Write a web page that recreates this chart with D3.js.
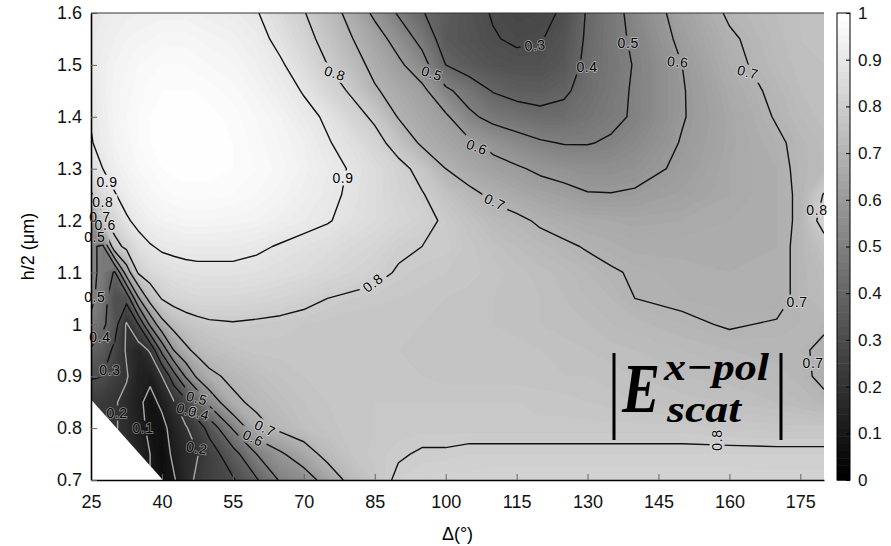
<!DOCTYPE html>
<html>
<head>
<meta charset="utf-8">
<script src="https://cdn.jsdelivr.net/npm/d3@7/dist/d3.min.js"></script>
<style>
body { margin: 0; background: #ffffff; }
svg text { font-family: "Liberation Sans", Arial, Helvetica, sans-serif; }
</style>
</head>
<body>
<div id="chart"></div>
<script>
// grid columns (Delta, deg) and rows (h/2, um)
const deltaValues = [25, 27.5, 30, 32.5, 35, 37.5, 40, 42.5, 45, 47.5, 50, 55, 60, 65, 70, 75, 80, 85, 90, 95, 100, 105, 110, 115, 120, 125, 130, 135, 140, 150, 160, 170, 175, 180];
const halfHeightValues = [0.70, 0.75, 0.80, 0.85, 0.90, 0.95, 1.00, 1.05, 1.10, 1.15, 1.20, 1.25, 1.30, 1.35, 1.40, 1.45, 1.50, 1.55, 1.60];

// |E scat|, one row per h/2 value (bottom to top)
const fieldRows = [
  [0.20,0.20,0.20,0.20,0.15,0.10,0.06,0.09,0.16,0.22, 0.25,0.29,0.39,0.51,0.55,0.64,0.73,0.775,0.81,0.82, 0.825,0.825,0.83,0.83,0.83,0.83,0.83,0.83,0.83,0.83, 0.83,0.825,0.825,0.825],
  [0.20,0.20,0.20,0.17,0.14,0.10,0.05,0.12,0.16,0.195, 0.25,0.36,0.50,0.585,0.655,0.73,0.77,0.785,0.795,0.805, 0.805,0.81,0.81,0.81,0.81,0.81,0.81,0.81,0.81,0.81, 0.81,0.81,0.81,0.81],
  [0.22,0.22,0.21,0.17,0.13,0.08,0.07,0.14,0.19,0.25, 0.33,0.51,0.67,0.72,0.75,0.765,0.775,0.78,0.785,0.785, 0.785,0.785,0.785,0.785,0.785,0.785,0.785,0.785,0.785,0.785, 0.78,0.775,0.775,0.775],
  [0.24,0.23,0.21,0.17,0.12,0.07,0.12,0.19,0.27,0.40, 0.53,0.68,0.72,0.745,0.76,0.77,0.775,0.78,0.78,0.78, 0.78,0.78,0.78,0.78,0.775,0.775,0.77,0.765,0.76,0.755, 0.75,0.74,0.73,0.715],
  [0.31,0.30,0.25,0.21,0.13,0.12,0.20,0.36,0.51,0.62, 0.68,0.72,0.745,0.76,0.77,0.775,0.775,0.775,0.77,0.77, 0.765,0.765,0.765,0.765,0.765,0.76,0.76,0.755,0.75,0.74, 0.735,0.725,0.715,0.685],
  [0.39,0.35,0.28,0.19,0.15,0.21,0.43,0.60,0.68,0.725, 0.745,0.765,0.775,0.775,0.775,0.775,0.775,0.77,0.77,0.765, 0.765,0.765,0.765,0.765,0.76,0.755,0.75,0.745,0.74,0.73, 0.72,0.715,0.71,0.685],
  [0.48,0.42,0.34,0.19,0.30,0.52,0.67,0.735,0.765,0.78, 0.79,0.795,0.79,0.785,0.78,0.775,0.77,0.77,0.77,0.77, 0.765,0.765,0.76,0.755,0.75,0.745,0.74,0.73,0.725,0.71, 0.695,0.705,0.71,0.71],
  [0.52,0.46,0.31,0.33,0.59,0.74,0.805,0.83,0.84,0.845, 0.845,0.845,0.84,0.83,0.815,0.80,0.79,0.785,0.78,0.775, 0.77,0.765,0.76,0.755,0.75,0.74,0.73,0.72,0.70,0.69, 0.685,0.68,0.715,0.73],
  [0.53,0.47,0.39,0.65,0.81,0.845,0.865,0.875,0.88,0.885, 0.885,0.885,0.88,0.87,0.86,0.845,0.83,0.815,0.795,0.785, 0.78,0.775,0.765,0.755,0.745,0.735,0.72,0.705,0.695,0.685, 0.68,0.68,0.715,0.735],
  [0.52,0.48,0.77,0.82,0.87,0.895,0.91,0.915,0.92,0.92, 0.92,0.92,0.91,0.895,0.88,0.865,0.85,0.835,0.81,0.80, 0.795,0.775,0.755,0.74,0.725,0.71,0.695,0.685,0.675,0.675, 0.675,0.68,0.715,0.76],
  [0.56,0.78,0.84,0.89,0.92,0.94,0.95,0.955,0.96,0.96, 0.96,0.955,0.95,0.935,0.92,0.905,0.88,0.86,0.84,0.82, 0.79,0.76,0.73,0.715,0.69,0.675,0.665,0.66,0.655,0.66, 0.67,0.68,0.71,0.84],
  [0.79,0.86,0.895,0.93,0.95,0.965,0.975,0.98,0.985,0.985, 0.985,0.98,0.97,0.955,0.935,0.915,0.89,0.86,0.83,0.805, 0.76,0.72,0.685,0.66,0.64,0.625,0.605,0.603,0.61,0.635, 0.66,0.68,0.71,0.805],
  [0.88,0.90,0.935,0.955,0.97,0.98,0.99,0.995,0.995,0.995, 0.995,0.99,0.98,0.965,0.945,0.92,0.895,0.86,0.825,0.775, 0.70,0.66,0.63,0.61,0.585,0.57,0.56,0.56,0.57,0.615, 0.66,0.68,0.715,0.73],
  [0.895,0.925,0.95,0.965,0.98,0.99,0.995,1.0,1.0,1.0, 1.0,0.99,0.975,0.96,0.94,0.905,0.875,0.83,0.765,0.685, 0.65,0.615,0.575,0.54,0.51,0.495,0.495,0.51,0.54,0.605, 0.655,0.69,0.715,0.735],
  [0.905,0.93,0.955,0.97,0.98,0.99,0.995,1.0,1.0,1.0, 0.995,0.985,0.97,0.95,0.92,0.89,0.835,0.785,0.695,0.655, 0.615,0.52,0.47,0.445,0.425,0.43,0.455,0.48,0.51,0.595, 0.655,0.705,0.73,0.745],
  [0.91,0.935,0.955,0.965,0.975,0.985,0.99,0.99,0.99,0.99, 0.985,0.975,0.955,0.93,0.895,0.84,0.79,0.71,0.665,0.625, 0.52,0.455,0.395,0.37,0.365,0.385,0.435,0.47,0.51,0.595, 0.665,0.715,0.74,0.75],
  [0.915,0.935,0.95,0.96,0.97,0.975,0.98,0.98,0.98,0.975, 0.97,0.96,0.94,0.91,0.86,0.80,0.74,0.675,0.62,0.54, 0.40,0.355,0.33,0.32,0.32,0.345,0.425,0.465,0.505,0.60, 0.68,0.73,0.745,0.75],
  [0.915,0.93,0.94,0.95,0.955,0.96,0.965,0.965,0.965,0.96, 0.955,0.945,0.925,0.88,0.83,0.77,0.705,0.645,0.56,0.47, 0.35,0.33,0.305,0.29,0.295,0.33,0.415,0.47,0.515,0.62, 0.69,0.735,0.75,0.755],
  [0.91,0.92,0.93,0.935,0.94,0.94,0.945,0.945,0.945,0.94, 0.935,0.925,0.905,0.855,0.805,0.74,0.675,0.58,0.49,0.405, 0.36,0.325,0.295,0.275,0.28,0.31,0.41,0.465,0.53,0.635, 0.71,0.74,0.75,0.75]
];

const lineLevels = [0.1, 0.2, 0.3, 0.4, 0.5, 0.6, 0.7, 0.8, 0.9];
const xTicks = [25, 40, 55, 70, 85, 100, 115, 130, 145, 160, 175];
const yTicks = [0.7, 0.8, 0.9, 1, 1.1, 1.2, 1.3, 1.4, 1.5, 1.6];
const colorbarTicks = [0, 0.1, 0.2, 0.3, 0.4, 0.5, 0.6, 0.7, 0.8, 0.9, 1];
// no data in this corner
const maskedCorner = [[25, 0.7], [25, 0.855], [40.2, 0.7]];

const contourLabels = [
  {delta: 76.6, h: 1.484, text: "0.8", angle: 18},
  {delta: 97.1, h: 1.484, text: "0.5", angle: 18},
  {delta: 118.9, h: 1.538, text: "0.3", angle: -5},
  {delta: 129.9, h: 1.496, text: "0.4", angle: 0},
  {delta: 138.6, h: 1.542, text: "0.5", angle: 0},
  {delta: 149.1, h: 1.506, text: "0.6", angle: 5},
  {delta: 163.9, h: 1.486, text: "0.7", angle: 15},
  {delta: 106.6, h: 1.342, text: "0.6", angle: 20},
  {delta: 78.3, h: 1.282, text: "0.9", angle: 0},
  {delta: 110.4, h: 1.236, text: "0.7", angle: 25},
  {delta: 178.5, h: 1.220, text: "0.8", angle: 0},
  {delta: 84.6, h: 1.080, text: "0.8", angle: -38},
  {delta: 174.3, h: 1.043, text: "0.7", angle: 0},
  {delta: 177.7, h: 0.925, text: "0.7", angle: 0},
  {delta: 157.4, h: 0.777, text: "0.8", angle: -90},
  {delta: 28.4, h: 1.274, text: "0.9", angle: 0},
  {delta: 27.5, h: 1.236, text: "0.8", angle: 0},
  {delta: 26.9, h: 1.207, text: "0.7", angle: 0},
  {delta: 28.0, h: 1.191, text: "0.6", angle: 0},
  {delta: 25.8, h: 1.168, text: "0.5", angle: 0},
  {delta: 25.8, h: 1.053, text: "0.5", angle: 0},
  {delta: 26.9, h: 0.976, text: "0.4", angle: 0},
  {delta: 29.0, h: 0.912, text: "0.3", angle: 0},
  {delta: 30.5, h: 0.829, text: "0.2", angle: 0},
  {delta: 36.0, h: 0.800, text: "0.1", angle: 0},
  {delta: 47.4, h: 0.858, text: "0.5", angle: 15},
  {delta: 45.3, h: 0.835, text: "0.3", angle: 15},
  {delta: 47.8, h: 0.829, text: "0.4", angle: 15},
  {delta: 47.4, h: 0.762, text: "0.2", angle: 10},
  {delta: 61.8, h: 0.800, text: "0.7", angle: 25},
  {delta: 59.3, h: 0.781, text: "0.6", angle: 25}
];

renderMap();

function renderMap(){

    const plot = {left: 91, right: 824, top: 13, bottom: 480};

    const svg = d3.select("#chart")
        .append("svg")
        .attr("width", 891)
        .attr("height", 546);

    const x = d3.scaleLinear().domain([25, 180]).range([plot.left, plot.right]);
    const y = d3.scaleLinear().domain([0.7, 1.6]).range([plot.bottom, plot.top]);

    const gray = v => {
        const c = Math.round(255 * Math.max(0, Math.min(1, v)));
        return "rgb(" + c + "," + c + "," + c + ")";
    };

    const nx = deltaValues.length, ny = halfHeightValues.length;
    const flatField = fieldRows.flat();

    // grid index -> pixel (grid is not evenly spaced)
    const colX = d3.scaleLinear().domain(d3.range(nx)).range(deltaValues.map(x));
    const rowY = d3.scaleLinear().domain(d3.range(ny)).range(halfHeightValues.map(y));

    function project(p){
        const i = Math.max(0, Math.min(nx - 1, p[0] - 0.5));
        const j = Math.max(0, Math.min(ny - 1, p[1] - 0.5));
        return [colX(i).toFixed(2), rowY(j).toFixed(2)];
    }

    function ringsPath(coords){
        return coords.map(poly => poly.map(ring =>
            "M" + ring.map(p => project(p).join(",")).join("L") + "Z"
        ).join("")).join("");
    }

    function onFrame(a, b){
        return (a[0] <= 0.5 && b[0] <= 0.5) || (a[0] >= nx - 0.5 && b[0] >= nx - 0.5)
            || (a[1] <= 0.5 && b[1] <= 0.5) || (a[1] >= ny - 0.5 && b[1] >= ny - 0.5);
    }

    function linesPath(coords){
        var d = "";
        coords.forEach(poly => poly.forEach(ring => {
            var open = false;
            for(var i = 1; i < ring.length; i++){
                const a = ring[i-1], b = ring[i];
                if(onFrame(a, b)){ open = false; continue; }
                if(!open){ d += "M" + project(a).join(","); open = true; }
                d += "L" + project(b).join(",");
            }
        }));
        return d;
    }

    const defs = svg.append("defs");
    defs.append("clipPath").attr("id", "plotClip")
        .append("rect")
        .attr("x", plot.left).attr("y", plot.top)
        .attr("width", plot.right - plot.left).attr("height", plot.bottom - plot.top);

    const gapMask = defs.append("mask").attr("id", "labelGaps")
        .attr("maskUnits", "userSpaceOnUse")
        .attr("x", 0).attr("y", 0).attr("width", 891).attr("height", 546);
    gapMask.append("rect").attr("width", 891).attr("height", 546).attr("fill", "white");
    gapMask.selectAll("rect.gap")
        .data(contourLabels)
        .enter().append("rect")
        .attr("class", "gap")
        .attr("x", d => -(d.text.length * 8 + 5) / 2)
        .attr("y", -7.5)
        .attr("width", d => d.text.length * 8 + 5)
        .attr("height", 15)
        .attr("fill", "black")
        .attr("transform", d => "translate(" + x(d.delta) + "," + y(d.h) + ") rotate(" + d.angle + ")");

    // shaded field
    const shadeLevels = d3.range(0, 100).map(i => i / 100);
    const bands = d3.contours().size([nx, ny]).thresholds(shadeLevels)(flatField);

    const field = svg.append("g").attr("clip-path", "url(#plotClip)");
    field.selectAll("path.band")
        .data(bands)
        .enter().append("path")
        .attr("class", "band")
        .attr("d", d => ringsPath(d.coordinates))
        .attr("fill-rule", "evenodd")
        .attr("fill", d => gray(d.value + 0.005));

    // contour lines
    const isolines = d3.contours().size([nx, ny]).thresholds(lineLevels)(flatField);
    field.append("g")
        .attr("mask", "url(#labelGaps)")
        .selectAll("path.iso")
        .data(isolines)
        .enter().append("path")
        .attr("class", "iso")
        .attr("d", d => linesPath(d.coordinates))
        .attr("fill", "none")
        .attr("stroke", d => d.value < 0.25 ? "#a9a9a9" : "#111")
        .attr("stroke-width", 1.4)
        .attr("stroke-linejoin", "round");

    field.append("path")
        .datum(maskedCorner)
        .attr("d", d3.line().x(d => x(d[0])).y(d => y(d[1])).curve(d3.curveLinearClosed))
        .attr("fill", "#ffffff");

    svg.append("g")
        .selectAll("text.clabel")
        .data(contourLabels)
        .enter().append("text")
        .attr("class", "clabel")
        .attr("transform", d => "translate(" + x(d.delta) + "," + y(d.h) + ") rotate(" + d.angle + ")")
        .attr("text-anchor", "middle")
        .attr("dy", "0.36em")
        .attr("font-size", 14)
        .attr("letter-spacing", 0.6)
        .attr("fill", "#000")
        .attr("stroke", "rgba(255,255,255,0.45)")
        .attr("stroke-width", 1.6)
        .attr("paint-order", "stroke")
        .text(d => d.text);

    // axes
    const xAxis = svg.append("g")
        .attr("transform", "translate(0," + plot.bottom + ")")
        .call(d3.axisBottom(x).tickValues(xTicks).tickSizeInner(-6).tickSizeOuter(0).tickPadding(15));
    const yAxis = svg.append("g")
        .attr("transform", "translate(" + plot.left + ",0)")
        .call(d3.axisLeft(y).tickValues(yTicks).tickFormat(d3.format("~g")).tickSizeInner(-6).tickSizeOuter(0).tickPadding(9));
    [xAxis, yAxis].forEach(g => {
        g.selectAll("text").attr("font-size", 18).attr("fill", "#111")
            .style("font-family", "'Liberation Sans', Arial, sans-serif");
        g.select(".domain").attr("stroke", "#000").attr("stroke-width", 1.6);
        g.selectAll(".tick line").attr("stroke", "#666");
    });

    svg.append("line")
        .attr("x1", plot.left).attr("x2", plot.right)
        .attr("y1", plot.top).attr("y2", plot.top)
        .attr("stroke", "#333").attr("stroke-width", 1);

    svg.append("text")
        .attr("x", (plot.left + plot.right) / 2)
        .attr("y", 540)
        .attr("text-anchor", "middle")
        .attr("font-size", 18)
        .text("\u0394(\u00b0)");

    svg.append("text")
        .attr("transform", "translate(34," + (plot.top + plot.bottom) / 2 + ") rotate(-90)")
        .attr("text-anchor", "middle")
        .attr("font-size", 18)
        .text("h/2 (\u03bcm)");

    // colorbar
    const cb = d3.scaleLinear().domain([0, 1]).range([plot.bottom, plot.top]);
    const cbLeft = 837, cbWidth = 13;
    const cbSteps = d3.range(64);
    svg.append("g")
        .selectAll("rect")
        .data(cbSteps)
        .enter().append("rect")
        .attr("x", cbLeft)
        .attr("y", d => cb((d + 1) / 64))
        .attr("width", cbWidth)
        .attr("height", d => cb(d / 64) - cb((d + 1) / 64) + 0.5)
        .attr("fill", d => gray(d / 63));
    svg.append("rect")
        .attr("x", cbLeft).attr("y", plot.top)
        .attr("width", cbWidth).attr("height", plot.bottom - plot.top)
        .attr("fill", "none").attr("stroke", "#000").attr("stroke-width", 1);
    const cbAxis = svg.append("g")
        .attr("transform", "translate(" + (cbLeft + cbWidth) + ",0)")
        .call(d3.axisRight(cb).tickValues(colorbarTicks).tickFormat(d3.format("~g")).tickSizeInner(-4).tickSizeOuter(0).tickPadding(8));
    cbAxis.select(".domain").remove();
    cbAxis.selectAll("text").attr("font-size", 17).attr("fill", "#111")
        .style("font-family", "'Liberation Sans', Arial, sans-serif");
    cbAxis.selectAll(".tick line").attr("stroke", "#000");

    // |E scat x-pol| annotation
    const note = svg.append("g").attr("fill", "#000")
        .style("font-weight", "bold").style("font-style", "italic");
    [614, 781].forEach(bx => {
        note.append("line")
            .attr("x1", bx).attr("x2", bx).attr("y1", 353).attr("y2", 440)
            .attr("stroke", "#000").attr("stroke-width", 3);
    });
    note.append("text").attr("x", 622).attr("y", 412)
        .attr("font-size", 70).attr("textLength", 38).attr("lengthAdjust", "spacingAndGlyphs")
        .style("font-family", "'Liberation Serif', serif").text("E");
    note.append("text").attr("x", 664).attr("y", 380)
        .attr("font-size", 38).attr("textLength", 105).attr("lengthAdjust", "spacingAndGlyphs")
        .style("font-family", "'Liberation Serif', serif").text("x\u2212pol");
    note.append("text").attr("x", 667).attr("y", 422)
        .attr("font-size", 38).attr("textLength", 74).attr("lengthAdjust", "spacingAndGlyphs")
        .style("font-family", "'Liberation Serif', serif").text("scat");
}
</script>
</body>
</html>
